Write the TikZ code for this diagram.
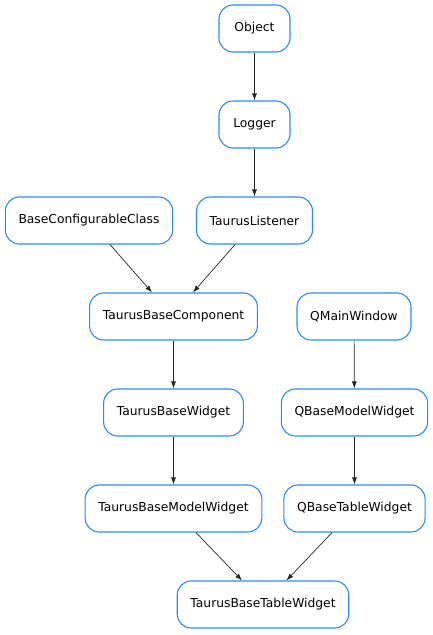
\documentclass[tikz,border=0pt]{standalone}
\usepackage{fontspec}
\setsansfont{DejaVu Sans}
\usepackage{xcolor}
\definecolor{classblue}{RGB}{40, 140, 255}
\usepackage{tikz}
\usetikzlibrary{arrows.meta,positioning}

\begin{document}
\begin{tikzpicture}[
  x=1pt, y=-1pt,
  classbox/.style={draw=classblue, fill=white, line width=1.1pt, rounded corners=14pt, font=\fontsize{12.3}{15}\selectfont\sffamily, inner xsep=13.2pt, minimum width=71pt, minimum height=47pt},
  arrow/.style={-{Latex[length=7pt,width=5pt]}, line width=0.7pt, color=black!85}
]
\useasboundingbox (0,0) rectangle (433,635);
\node[classbox] (obj) at (254.5,28.5) {Object};
\node[classbox] (logger) at (254.5,124.5) {Logger};
\node[classbox] (bcc) at (89,220.5) {BaseConfigurableClass};
\node[classbox] (listener) at (254.5,220.5) {TaurusListener};
\node[classbox] (tbc) at (173.5,316.5) {TaurusBaseComponent};
\node[classbox] (qmw) at (354,316.5) {QMainWindow};
\node[classbox] (tbw) at (173.5,412.5) {TaurusBaseWidget};
\node[classbox] (qbmw) at (354.5,412.5) {QBaseModelWidget};
\node[classbox] (tbmw) at (173.5,508.5) {TaurusBaseModelWidget};
\node[classbox] (qbtw) at (354.5,508.5) {QBaseTableWidget};
\node[classbox] (tbtw) at (263,604.5) {TaurusBaseTableWidget};

\draw[arrow] (obj) -- (logger);
\draw[arrow] (logger) -- (listener);
\draw[arrow] ([xshift=21pt]bcc.south) -- ([xshift=-21.5pt]tbc.north);
\draw[arrow] ([xshift=-19.5pt]listener.south) -- ([xshift=19.5pt]tbc.north);
\draw[arrow] (tbc) -- (tbw);
\draw[arrow] (qmw) -- (qbmw);
\draw[arrow] (tbw) -- (tbmw);
\draw[arrow] (qbmw) -- (qbtw);
\draw[arrow] ([xshift=22.5pt]tbmw.south) -- ([xshift=-21pt]tbtw.north);
\draw[arrow] ([xshift=-22.5pt]qbtw.south) -- ([xshift=23.5pt]tbtw.north);
\end{tikzpicture}
\end{document}
